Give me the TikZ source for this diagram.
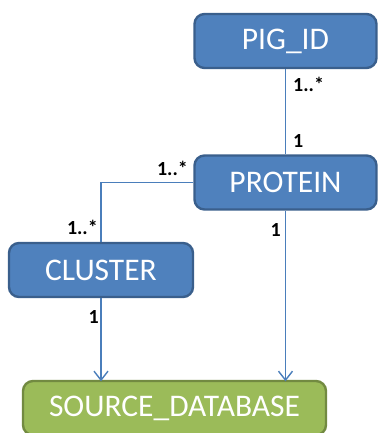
\documentclass[tikz,border=0pt]{standalone}
\usepackage{fontspec}
\setmainfont{Carlito}
\usetikzlibrary{arrows.meta}
\definecolor{boxblue}{HTML}{4F81BD}
\definecolor{boxblueline}{HTML}{3A5F8C}
\definecolor{boxgreen}{HTML}{9BBB59}
\definecolor{boxgreenline}{HTML}{728A41}
\definecolor{linkblue}{HTML}{4A7EBB}
\tikzset{
  entity/.style={rounded corners=10pt, line width=2.4pt, minimum height=54pt,
    inner sep=0pt, text=white, font=\fontsize{31.5}{36}\selectfont},
  bluebox/.style={entity, fill=boxblue, draw=boxblueline},
  greenbox/.style={entity, fill=boxgreen, draw=boxgreenline},
  link/.style={draw=linkblue, line width=1.4pt},
  arrowlink/.style={link, -{Straight Barb[length=9pt, width=14pt, line width=1.4pt]}},
  mult/.style={inner sep=0pt, font=\fontsize{20}{22}\selectfont\bfseries}
}
\begin{document}
\begin{tikzpicture}[x=1pt, y=-1pt]
  \useasboundingbox (0,0) rectangle (378,433);
  % entities
  \node[bluebox, minimum width=182pt] (pig) at (285.5,41) {PIG\_ID};
  \node[bluebox, minimum width=182pt] (protein) at (285.5,182.5) {PROTEIN};
  \node[bluebox, minimum width=184pt] (cluster) at (101,270) {CLUSTER};
  \node[greenbox, minimum width=303pt] (source) at (174.5,408) {SOURCE\_DATABASE};
  % relations
  \draw[link] (pig.south) -- (protein.north);
  \draw[link] (protein.west) -| (cluster.north);
  \coordinate (c1) at (cluster.south |- source.north);
  \coordinate (p1) at (protein.south |- source.north);
  \draw[arrowlink] (cluster.south) -- ([yshift=-1.5pt]c1);
  \draw[arrowlink] (protein.south) -- ([yshift=-1.5pt]p1);
  % multiplicities
  \node[mult, anchor=west] (m1) at (293,84) {1..*};
  \node[mult, anchor=west] (m2) at (293,141) {1};
  \node[mult, anchor=east] (m3) at (188,168) {1..*};
  \node[mult, anchor=east] (m4) at (98,227) {1..*};
  \node[mult, anchor=east] (m5) at (99,317) {1};
  \node[mult, anchor=east] (m6) at (281,230) {1};
\end{tikzpicture}
\end{document}
